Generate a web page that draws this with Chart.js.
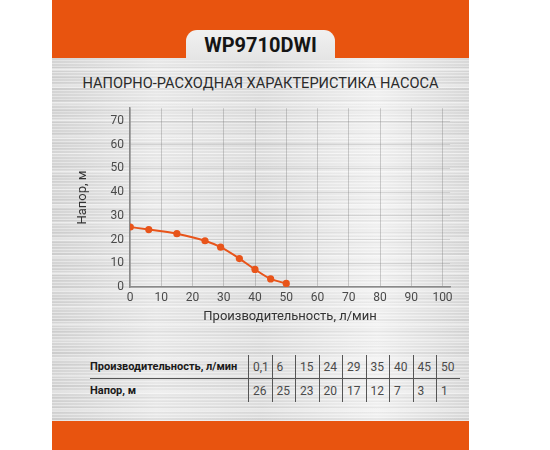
<!DOCTYPE html>
<html>
<head>
<meta charset="utf-8">
<script src="https://cdn.jsdelivr.net/npm/chart.js@4"></script>
<style>
  html, body { margin: 0; padding: 0; background: #fff; }
  body { width: 550px; height: 450px; position: relative; overflow: hidden; font-family: "Roboto", "Noto Sans", sans-serif; }
  .card {
    position: absolute; left: 52px; top: 0; width: 417px; height: 450px; overflow: hidden;
    background:
      repeating-linear-gradient(180deg, rgba(255,255,255,0.4) 0 1px, transparent 1px 3px),
      repeating-linear-gradient(180deg, rgba(0,0,0,0.04) 0 2px, transparent 2px 5px, rgba(0,0,0,0.025) 5px 6px, transparent 6px 11px),
      repeating-linear-gradient(180deg, rgba(255,255,255,0.3) 0 3px, transparent 3px 17px),
      linear-gradient(90deg, #d4d4d4 0%, #e8e8e8 25%, #dcdcdc 50%, #f0f0f0 78%, #d8d8d8 100%);
  }
  .band { position: absolute; left: 0; width: 417px; background: #e8540f; }
  .band.top { top: 0; height: 58px; }
  .band.bottom { top: 421px; height: 29px; }
  .tab {
    position: absolute; left: 134px; top: 30px; width: 149px; height: 30px;
    border-radius: 11px 11px 0 0;
    background: linear-gradient(180deg, #f1f1f1, #e4e4e4);
    font-weight: bold; font-size: 20px; color: #151515; text-align: center; line-height: 30px;
  }
  .title {
    position: absolute; left: 0; width: 417px; top: 74px; text-align: center;
    font-size: 14.6px; color: #2b2b2b;
  }
  #wrap { position: absolute; left: 0; top: 95px; width: 417px; height: 230px; }
  table { position: absolute; left: 38px; top: 355px; border-collapse: collapse; table-layout: fixed; font-size: 12px; color: #4a4a4a; }
  td { padding: 0 0 0 4px; height: 23px; width: 18.5px; border-left: 1.5px solid #555; white-space: nowrap; overflow: hidden; }
  td.lab { border-left: none; width: 158px; padding-left: 0; font-weight: bold; color: #1a1a1a; font-size: 11px; }
  tr.first td { border-bottom: 1.2px solid #555; }
</style>
</head>
<body>
<div class="card">
  <div class="band top"></div>
  <div class="tab">WP9710DWI</div>
  <div class="title">НАПОРНО-РАСХОДНАЯ ХАРАКТЕРИСТИКА НАСОСА</div>
  <div id="wrap"><canvas id="chart"></canvas></div>
  <table id="tbl"></table>
  <div class="band bottom"></div>
</div>
<script>
  // Values
  var flow = [0.1, 6, 15, 24, 29, 35, 40, 45, 50];        // л/мин
  var head = [25.3, 24.2, 22.5, 19.5, 16.8, 12, 7.4, 3.4, 1.5]; // м, as plotted
  var tableFlow = ['0,1', '6', '15', '24', '29', '35', '40', '45', '50'];
  var tableHead = [26, 25, 23, 20, 17, 12, 7, 3, 1];
  var flowLabel = 'Производительность, л/мин';
  var headLabel = 'Напор, м';

  // Table
  var tbl = document.getElementById('tbl');
  var r1 = '<tr class="first"><td class="lab">' + flowLabel + '</td>';
  tableFlow.forEach(function (v) { r1 += '<td>' + v + '</td>'; });
  var r2 = '<tr><td class="lab">' + headLabel + '</td>';
  tableHead.forEach(function (v) { r2 += '<td>' + v + '</td>'; });
  tbl.innerHTML = r1 + '</tr>' + r2 + '</tr>';

  // Chart
  var orange = '#e8541a';
  // ticks every 10 up to the last round value, axis runs a bit past it
  var tensUpTo = function (top) {
    return function (scale) {
      var t = [];
      for (var v = 0; v <= top; v += 10) t.push({value: v});
      scale.ticks = t;
    };
  };

  new Chart(document.getElementById('chart'), {
    type: 'line',
    data: {
      datasets: [{
        data: flow.map(function (x, i) { return {x: x, y: head[i]}; }),
        borderColor: orange,
        backgroundColor: orange,
        borderWidth: 2,
        pointRadius: 3.6,
        pointBorderWidth: 0,
        pointHoverRadius: 3.6,
        tension: 0.4,
        cubicInterpolationMode: 'monotone'
      }]
    },
    options: {
      responsive: true,
      maintainAspectRatio: false,
      animation: false,
      layout: { padding: { left: 23, top: 10, right: 19, bottom: 0 } },
      plugins: { legend: { display: false }, tooltip: { enabled: false } },
      scales: {
        x: {
          type: 'linear', min: 0, max: 102.4,
          afterBuildTicks: tensUpTo(100),
          afterFit: function (s) { s.height = 38; },
          ticks: { color: '#4a4a4a', font: { size: 12, family: 'Roboto' }, padding: 4, maxRotation: 0 },
          grid: { color: 'rgba(120,120,120,0.35)', drawTicks: false, lineWidth: 1 },
          border: { color: '#8a8a8a', width: 1.5 },
          title: { display: true, text: flowLabel, color: '#333', font: { size: 13, family: 'Roboto' }, padding: { top: 4, bottom: 0 } }
        },
        y: {
          min: 0, max: 75.4,
          afterBuildTicks: tensUpTo(70),
          afterFit: function (s) { s.width = 55; },
          ticks: { color: '#4a4a4a', font: { size: 12, family: 'Roboto' }, padding: 6 },
          grid: { color: 'rgba(120,120,120,0.22)', drawTicks: false, lineWidth: 1 },
          border: { color: '#8a8a8a', width: 1.5 },
          title: { display: true, text: headLabel, color: '#333', font: { size: 13, family: 'Roboto' }, padding: { top: 0, bottom: 4 } }
        }
      }
    }
  });
</script>
</body>
</html>
